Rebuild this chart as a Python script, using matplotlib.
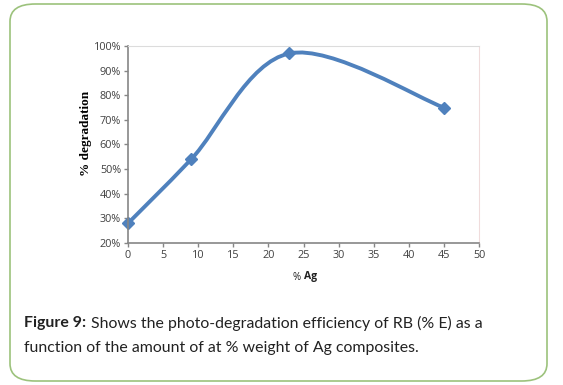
import matplotlib.pyplot as plt
from matplotlib.path import Path
from matplotlib.patches import PathPatch, FancyBboxPatch
from matplotlib.ticker import PercentFormatter

ag = [0, 9, 23, 45]
degradation = [28, 54, 97, 75]
xticks = list(range(0, 55, 5))
yticks = list(range(20, 110, 10))

fig = plt.figure(figsize=(5.63, 3.85), dpi=100)

# cadre arrondi vert
frame = FancyBboxPatch((10 / 563, 4 / 385), 537 / 563, 377 / 385,
                       boxstyle="round,pad=0,rounding_size=0.045",
                       transform=fig.transFigure, fill=False,
                       edgecolor="#9cc27c", linewidth=1.2)
fig.patches.append(frame)

ax = fig.add_axes([128 / 563, 142 / 385, 351 / 563, 197 / 385])

# courbe lissée (style Excel) : bezier entre les points
pts = list(zip(ag, degradation))
verts = [pts[0]]
codes = [Path.MOVETO]
for i in range(len(pts) - 1):
    p0 = pts[i - 1] if i > 0 else pts[i]
    p1 = pts[i]
    p2 = pts[i + 1]
    p3 = pts[i + 2] if i + 2 < len(pts) else pts[i + 1]
    c1 = (p1[0] + (p2[0] - p0[0]) / 6, p1[1] + (p2[1] - p0[1]) / 6)
    c2 = (p2[0] - (p3[0] - p1[0]) / 6, p2[1] - (p3[1] - p1[1]) / 6)
    verts += [c1, c2, p2]
    codes += [Path.CURVE4] * 3
ax.add_patch(PathPatch(Path(verts, codes), fill=False, edgecolor="#4f81bd",
                       linewidth=2.8, capstyle="round", joinstyle="round"))
ax.plot(ag, degradation, linestyle="none", marker="D", markersize=6,
        color="#4f81bd", clip_on=False)

ax.set_xlim(0, 50)
ax.set_ylim(20, 100)
ax.set_xticks(xticks)
ax.set_yticks(yticks)
ax.yaxis.set_major_formatter(PercentFormatter(decimals=0))
ax.tick_params(direction="out", length=3, width=1, color="#868686",
               labelsize=7.8, labelcolor="#404040", pad=2)
for lab in ax.get_xticklabels() + ax.get_yticklabels():
    lab.set_family("Open Sans")

for s in ["left", "bottom"]:
    ax.spines[s].set_color("#868686")
    ax.spines[s].set_linewidth(1.2)
ax.spines["top"].set_color("#dcdcdc")
ax.spines["right"].set_color("#f0dcdc")
ax.spines["top"].set_linewidth(0.8)
ax.spines["right"].set_linewidth(0.8)

fig.text(86 / 563, 1 - 133 / 385, "% degradation", rotation=90,
         ha="center", va="center", family="Liberation Serif",
         fontweight="bold", fontsize=9.5)
fig.text(304 / 563, 1 - 277 / 385, "% ", ha="right", va="center",
         family="Open Sans", fontsize=7, color="#202020")
fig.text(304 / 563, 1 - 277 / 385, "Ag", ha="left", va="center",
         family="Open Sans", fontweight="bold", fontsize=7.5, color="#202020")

# légende de la figure
fig.text(24 / 563, 1 - 323 / 385, "Figure 9:", family="Lato",
         fontweight="bold", fontsize=11.4, va="center", color="#222222")
fig.text(91 / 563, 1 - 323 / 385,
         "Shows the photo-degradation efficiency of RB (% E) as a",
         family="Lato", fontsize=11.4, va="center", color="#222222")
fig.text(24 / 563, 1 - 348 / 385,
         "function of the amount of at % weight of Ag composites.",
         family="Lato", fontsize=11.4, va="center", color="#222222")

fig.savefig("out.png", dpi=100)
